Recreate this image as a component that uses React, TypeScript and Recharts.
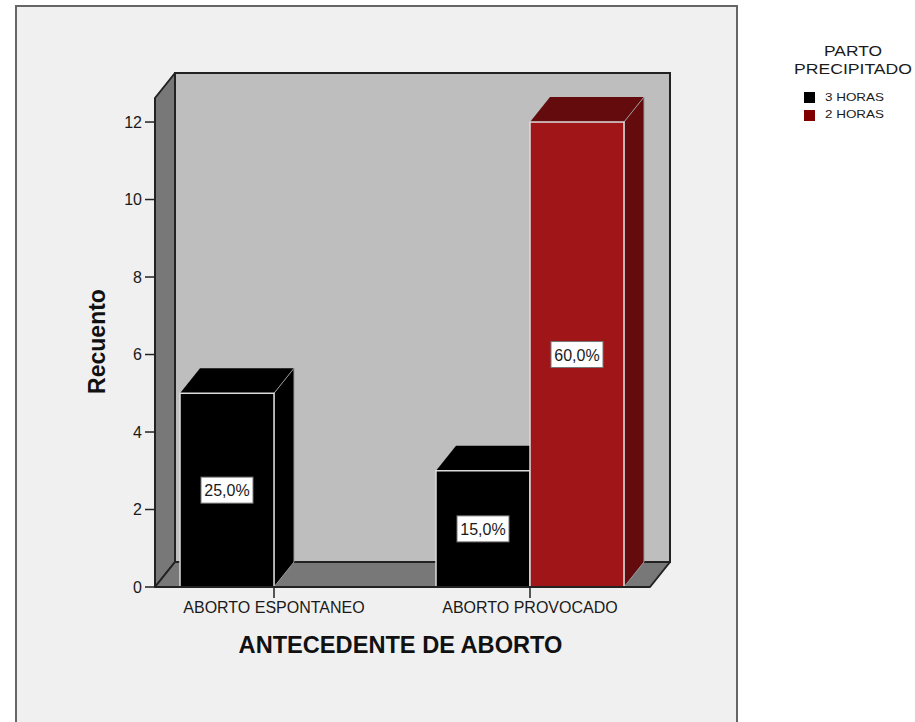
import React from 'react';
import { BarChart, Bar, XAxis, YAxis, Legend, LabelList } from 'recharts';

// Data
const categories = ['ABORTO ESPONTANEO', 'ABORTO PROVOCADO'];
const threeHours: (number | null)[] = [5, 3];
const twoHours: (number | null)[] = [null, 12];
const threeHoursPct: (string | null)[] = ['25,0%', '15,0%'];
const twoHoursPct: (string | null)[] = [null, '60,0%'];
const yTicks = [0, 2, 4, 6, 8, 10, 12];
const legendTitle = ['PARTO', 'PRECIPITADO'];

const rows = categories.map((name, i) => ({
  name,
  threeHours: threeHours[i],
  twoHours: twoHours[i],
  threeHoursPct: threeHoursPct[i],
  twoHoursPct: twoHoursPct[i],
}));

// Layout of the box the bars stand in
const W = 915;
const H = 722;
const LEFT = 155;
const RIGHT = 650;
const TOP = 98;
const BOTTOM = 587;
const DX = 20;
const DY = 25;
const FONT = '"Liberation Sans", Arial, sans-serif';
const INK = '#1a1a1a';

const pts = (list: number[][]) => list.map((p) => p.join(',')).join(' ');

// Back wall, side wall and floor of the 3D box
const Walls = () => (
  <g>
    <rect x={16} y={6} width={721} height={H + 20} fill="#f0f0f0" stroke="#666" strokeWidth={2} />
    <rect x={LEFT + DX} y={TOP - DY} width={RIGHT - LEFT} height={BOTTOM - TOP} fill="#bebebe" stroke="#222" strokeWidth={2} />
    <polygon
      points={pts([[LEFT, TOP], [LEFT + DX, TOP - DY], [LEFT + DX, BOTTOM - DY], [LEFT, BOTTOM]])}
      fill="#787878" stroke="#222" strokeWidth={2} strokeLinejoin="round"
    />
    <polygon
      points={pts([[LEFT, BOTTOM], [LEFT + DX, BOTTOM - DY], [RIGHT + DX, BOTTOM - DY], [RIGHT, BOTTOM]])}
      fill="#787878" stroke="#222" strokeWidth={2} strokeLinejoin="round"
    />
  </g>
);

// A bar drawn as an extruded box: side and top faces first, then the front
const makeBox = (front: string, shade: string) => (props: any) => {
  const { x, y, width, height } = props;
  if (!height || height <= 0) return <g />;
  const r = x + width;
  const b = y + height;
  return (
    <g>
      <polygon points={pts([[x, y], [x + DX, y - DY], [r + DX, y - DY], [r, y]])} fill={shade} />
      <polygon
        points={pts([[r, y], [r + DX, y - DY], [r + DX, b - DY], [r, b]])}
        fill={shade} stroke="#9a9a9a" strokeWidth={1}
      />
      <rect x={x} y={y} width={width} height={height} fill={front} stroke="#dcdcdc" strokeWidth={1.5} />
    </g>
  );
};

// Percentage tag in a white box at the middle of the front face
const PctTag = (props: any) => {
  const { x, y, width, height, value } = props;
  if (!value) return null;
  const cx = x + width / 2;
  const cy = y + height / 2;
  return (
    <g>
      <rect x={cx - 26} y={cy - 13} width={52} height={26} fill="#fff" stroke="#777" strokeWidth={1} />
      <text x={cx} y={cy + 6} textAnchor="middle" fontFamily={FONT} fontSize={16} fill={INK}>{value}</text>
    </g>
  );
};

const titleWidths = [58, 118];

const LegendBlock = () => (
  <div style={{ position: 'absolute', left: 775, top: 0, width: 155, height: 130, fontFamily: FONT, color: INK }}>
    <svg width={155} height={130} style={{ display: 'block' }}>
      {legendTitle.map((t, i) => (
        <text
          key={t} x={78} y={56 + i * 18} textAnchor="middle" fontFamily={FONT} fontSize={15} fill={INK}
          textLength={titleWidths[i]} lengthAdjust="spacingAndGlyphs"
        >{t}</text>
      ))}
      <rect x={29} y={92} width={11} height={11} fill="#000" />
      <text x={50} y={101} fontFamily={FONT} fontSize={11.5} fill={INK} textLength={59} lengthAdjust="spacingAndGlyphs">3 HORAS</text>
      <rect x={29} y={110} width={11} height={11} fill="#800000" />
      <text x={50} y={118} fontFamily={FONT} fontSize={11.5} fill={INK} textLength={59} lengthAdjust="spacingAndGlyphs">2 HORAS</text>
    </svg>
  </div>
);

export default function App() {
  return (
    <div style={{ position: 'absolute', left: 0, top: 0, width: W, height: H, overflow: 'hidden', background: '#fff' }}>
      <BarChart
        width={W}
        height={H}
        data={rows}
        margin={{ top: TOP, right: W - RIGHT, bottom: 75, left: 95 }}
        barSize={94}
        barGap={0}
      >
        <Walls />
        <XAxis
          dataKey="name"
          height={60}
          padding={{ left: -9, right: -8 }}
          axisLine={{ stroke: '#222', strokeWidth: 2 }}
          tickLine={{ stroke: '#222', strokeWidth: 1.5 }}
          tickSize={11}
          tickMargin={4}
          interval={0}
          tick={{ fontFamily: FONT, fontSize: 16, fill: INK }}
          label={{ value: 'ANTECEDENTE DE ABORTO', position: 'insideBottom', offset: -6, dx: -2, style: { fontFamily: FONT, fontSize: 23.6, fontWeight: 700, fill: '#111' } }}
        />
        <YAxis
          width={60}
          domain={[0, 12.62]}
          ticks={yTicks}
          interval={0}
          axisLine={{ stroke: '#222', strokeWidth: 2 }}
          tickLine={{ stroke: '#222', strokeWidth: 1.5 }}
          tickSize={10}
          tickMargin={3}
          tick={{ fontFamily: FONT, fontSize: 16, fill: INK }}
          label={{ value: 'Recuento', angle: -90, position: 'insideLeft', offset: 2, dy: -1, style: { fontFamily: FONT, fontSize: 23, fontWeight: 700, fill: '#111', textAnchor: 'middle' } }}
        />
        <Bar dataKey="threeHours" name="3 HORAS" fill="#000" isAnimationActive={false} shape={makeBox('#000000', '#000000')}>
          <LabelList dataKey="threeHoursPct" content={PctTag} />
        </Bar>
        <Bar dataKey="twoHours" name="2 HORAS" fill="#800000" isAnimationActive={false} shape={makeBox('#a01518', '#640c0d')}>
          <LabelList dataKey="twoHoursPct" content={PctTag} />
        </Bar>
        <Legend content={LegendBlock} wrapperStyle={{ position: 'absolute', left: 0, top: 0, width: 0, height: 0 }} />
      </BarChart>
    </div>
  );
}
